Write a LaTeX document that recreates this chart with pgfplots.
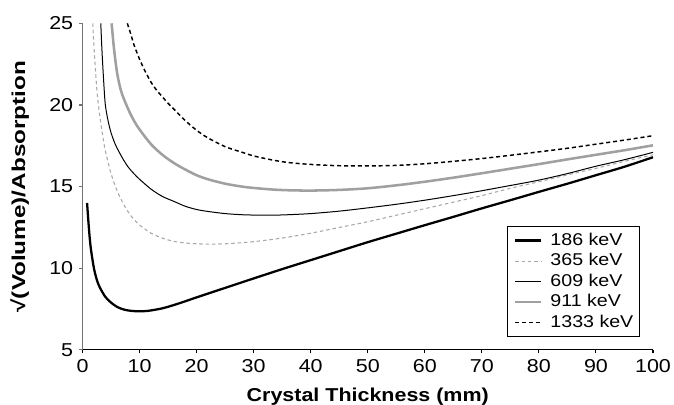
\documentclass[border=0pt]{standalone}
\usepackage{fontspec}
\setmainfont{Liberation Sans}[FakeStretch=1.15]
\newfontfamily\ylabfont{Liberation Sans}[FakeStretch=1.3]
\usepackage{pgfplots}
\pgfplotsset{compat=1.18}

\definecolor{lgray}{HTML}{A8A8A8}
\definecolor{mgray}{HTML}{A0A0A0}

\begin{document}
\begin{tikzpicture}
\begin{axis}[
    scale only axis,
    width=427.9pt, height=245pt,
    xmin=0, xmax=100, ymin=5, ymax=25,
    xtick={0,10,...,100}, ytick={5,10,...,25},
    axis lines=left,
    axis line style={-, line width=0.8pt},
    y axis line style={draw=black!55},
    ytick style={draw=black!55, line width=0.8pt},
    xtick style={draw=black, line width=0.8pt},
    tick align=outside,
    major tick length=2.5pt,
    /pgf/number format/assume math mode=true,
    tick label style={font=\fontsize{14}{16}\selectfont},
    xticklabel style={yshift=-1pt},
    yticklabel style={xshift=-1pt},
    xlabel={Crystal Thickness (mm)},
    ylabel={√(Volume)/Absorption},
    xlabel style={font=\bfseries\fontsize{14}{16}\selectfont,
        at={(axis description cs:0.5,0)}, anchor=base, yshift=-38.5pt},
    ylabel style={font=\ylabfont\bfseries\fontsize{14}{16}\selectfont,
        at={(axis description cs:0,0.5)}, anchor=base, yshift=43pt},
    legend style={
        at={(rel axis cs:0.977,0.039)}, anchor=south east,
        draw=black, line width=0.6pt, fill=white,
        font=\fontsize{12.8}{14}\selectfont,
        inner sep=4.6pt, row sep=3.4pt, column sep=6pt,
        nodes={inner sep=0pt, text height=9.5pt, text depth=2.5pt},
    },
    legend cell align=left,
    legend image code/.code={\draw[#1] (0pt,0pt) -- (19.5pt,0pt);},
    every axis plot/.append style={smooth, tension=0.5},
]
% 186 keV
\addplot[black, line width=1.7pt] coordinates {
    (0.8,14.0) (1,13.0) (1.25,11.9) (1.5,11.1) (2,10.0) (2.5,9.3) (3,8.85)
    (4,8.25) (5,7.9) (6,7.65) (7,7.5) (8,7.42) (9,7.38) (10,7.37) (11,7.38)
    (12,7.42) (14,7.55) (16,7.75) (18,7.98) (20,8.22) (25,8.8) (30,9.38)
    (35,9.95) (40,10.5) (45,11.05) (50,11.6) (55,12.12) (60,12.64) (65,13.15)
    (70,13.67) (75,14.17) (80,14.68) (85,15.18) (90,15.7) (95,16.22) (100,16.8)
};
\addlegendentry{186 keV}
% 365 keV
\addplot[lgray, line width=0.8pt, dash pattern=on 2.6pt off 2.2pt] coordinates {
    (1.8,25) (2,23.6) (2.5,21.0) (3,19.4) (3.5,18.2) (4,17.2) (5,15.8) (6,14.8)
    (7,14.05) (8,13.45) (9,13.0) (10,12.65) (12,12.15) (14,11.85) (16,11.65)
    (18,11.55) (20,11.5) (22,11.48) (25,11.5) (28,11.57) (30,11.63) (35,11.85)
    (40,12.15) (45,12.5) (50,12.85) (55,13.25) (60,13.65) (65,14.05) (70,14.45)
    (75,14.9) (80,15.3) (85,15.72) (90,16.12) (95,16.55) (100,16.95)
};
\addlegendentry{365 keV}
% 609 keV
\addplot[black, line width=0.75pt] coordinates {
    (3.2,25) (3.4,23.4) (3.7,21.5) (4,20.0) (4.5,19.0) (5,18.3) (5.5,17.8)
    (6,17.4) (7,16.75) (8,16.2) (9,15.8) (10,15.45) (12,14.85) (14,14.4)
    (16,14.1) (18,13.8) (20,13.6) (22,13.48) (25,13.35) (28,13.28) (30,13.26)
    (33,13.25) (36,13.28) (40,13.35) (45,13.5) (50,13.7) (55,13.92) (60,14.17)
    (65,14.45) (70,14.75) (75,15.07) (80,15.4) (85,15.8) (90,16.25) (95,16.65)
    (100,17.1)
};
\addlegendentry{609 keV}
% 911 keV
\addplot[mgray, line width=1.9pt] coordinates {
    (5.1,25) (5.5,23.5) (6,22.1) (6.5,21.2) (7,20.6) (8,19.75) (9,19.05)
    (10,18.5) (12,17.6) (14,16.95) (16,16.45) (18,16.05) (20,15.7) (22,15.45)
    (25,15.18) (28,15.0) (30,14.92) (33,14.83) (36,14.78) (40,14.76) (45,14.8)
    (50,14.9) (55,15.08) (60,15.3) (65,15.55) (70,15.82) (75,16.1) (80,16.38)
    (85,16.67) (90,16.95) (95,17.23) (100,17.53)
};
\addlegendentry{911 keV}
% 1333 keV
\addplot[black, line width=1.1pt, dash pattern=on 3pt off 2.2pt] coordinates {
    (7.85,25) (8.5,24.3) (9,23.7) (10,22.8) (11,22.05) (12,21.4) (13,20.9)
    (14,20.5) (15,20.1) (16,19.75) (18,19.05) (20,18.45) (22,17.98) (25,17.45)
    (28,17.1) (30,16.88) (33,16.65) (36,16.48) (40,16.36) (45,16.28) (50,16.27)
    (55,16.3) (60,16.4) (65,16.55) (70,16.72) (75,16.92) (80,17.13) (85,17.35)
    (90,17.6) (95,17.85) (100,18.12)
};
\addlegendentry{1333 keV}
\coordinate (ll) at (rel axis cs:0,0);
\coordinate (ur) at (rel axis cs:1,1);
\end{axis}
\pgfresetboundingbox
\path ([shift={(-61.9pt,-41.25pt)}]ll) rectangle ([shift={(15.75pt,17.5pt)}]ur);
\end{tikzpicture}
\end{document}
